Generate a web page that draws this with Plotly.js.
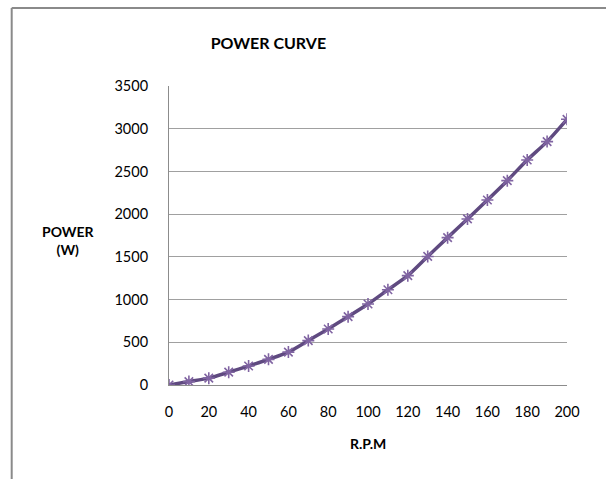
<!DOCTYPE html>
<html>
<head>
<meta charset="utf-8">
<script src="https://cdn.plot.ly/plotly-3.0.1.min.js"></script>
<style>
html,body{margin:0;padding:0;background:#fff;}
#chart{width:606px;height:479px;}
</style>
</head>
<body>
<div id="chart"></div>
<script>
const rpm = [0,10,20,30,40,50,60,70,80,90,100,110,120,130,140,150,160,170,180,190,200];
const power = [0,40,80,150,222,300,385,520,656,800,948,1115,1280,1505,1725,1944,2166,2392,2634,2849,3110];
const xTicks = [0,20,40,60,80,100,120,140,160,180,200];
const yTicks = [0,500,1000,1500,2000,2500,3000,3500];
const chartTitle = "POWER CURVE";
const xTitle = "R.P.M";
const yTitle = "POWER<br>(W)";

const FONT = "Lato, 'Open Sans', sans-serif";
const W = 606, H = 479;
const L = 168.5, R = 567, T = 86, B = 385;
const px2x = p => (p - L) / (R - L);
const px2y = p => (B - p) / (B - T);

const trace = {
  x: rpm, y: power, type: 'scatter', mode: 'lines+markers',
  line: {color: '#5F4A80', width: 3.5, shape: 'spline', smoothing: 0.6},
  marker: {symbol: 'asterisk-open', size: 10, color: '#8064A2', line: {color: '#8064A2', width: 1.6}},
  hoverinfo: 'x+y'
};

const layout = {
  width: W, height: H,
  margin: {l: L, r: W - R, t: T, b: H - B, pad: 0},
  paper_bgcolor: '#fff', plot_bgcolor: '#fff',
  font: {family: FONT, size: 14, color: '#000'},
  showlegend: false,
  title: {text: '<b>' + chartTitle + '</b>', font: {family: FONT, size: 16, color: '#000'},
          xref: 'paper', x: px2x(268), xanchor: 'center', yref: 'container', y: 1 - 43/H, yanchor: 'middle'},
  xaxis: {
    range: [0, 200], tickvals: xTicks, ticktext: xTicks.map(String),
    showgrid: false, zeroline: false, showline: true, linecolor: '#8c8c8c', linewidth: 1,
    ticks: '', ticklabelstandoff: 14,
    tickfont: {family: FONT, size: 14.5, color: '#000'}, fixedrange: true
  },
  yaxis: {
    range: [0, 3500], tickvals: yTicks, ticktext: yTicks.map(String),
    showgrid: true, gridcolor: '#a0a0a0', gridwidth: 1, zeroline: false,
    showline: true, linecolor: '#8c8c8c', linewidth: 1,
    ticks: '', ticklabelstandoff: 17,
    tickfont: {family: FONT, size: 14.5, color: '#000'}, fixedrange: true
  },
  annotations: [
    {text: '<b>' + yTitle + '</b>', xref: 'paper', yref: 'paper', x: px2x(68), y: px2y(240),
     showarrow: false, xanchor: 'center', yanchor: 'middle', align: 'center',
     font: {family: FONT, size: 14, color: '#000'}},
    {text: '<b>' + xTitle + '</b>', xref: 'paper', yref: 'paper', x: px2x(368), y: px2y(443),
     showarrow: false, xanchor: 'center', yanchor: 'middle',
     font: {family: FONT, size: 14, color: '#000'}}
  ],
  shapes: [
    {type: 'line', xref: 'paper', yref: 'paper', x0: px2x(11), x1: px2x(11), y0: px2y(8), y1: px2y(490),
     line: {color: '#8a8a8a', width: 2}},
    {type: 'line', xref: 'paper', yref: 'paper', x0: px2x(11), x1: px2x(620), y0: px2y(8), y1: px2y(8),
     line: {color: '#8a8a8a', width: 2}}
  ]
};

Plotly.newPlot('chart', [trace], layout, {displayModeBar: false, staticPlot: true});
</script>
</body>
</html>
